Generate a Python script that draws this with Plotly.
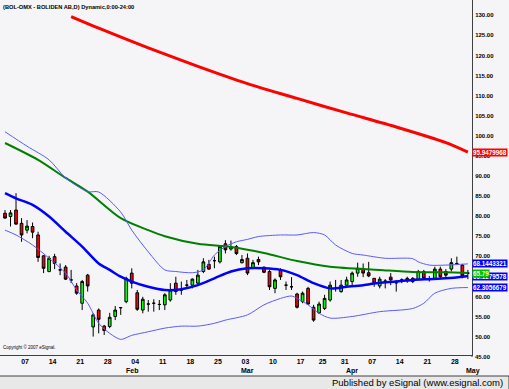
import plotly.graph_objects as go
import pandas as pd

# ---------------- data ----------------
trade_days = pd.bdate_range("2008-01-02", "2008-04-30")
trade_days = trade_days[~trade_days.isin(pd.to_datetime(["2008-03-21", "2008-03-24"]))]
dates = [pd.Timestamp("2007-12-28")] + list(trade_days)

opens = [80.7, 79.9, 81.5, 78.2, 76.5, 77.4, 75.3, 70.1, 66.2, 69.9,
         66.6, 67.3, 64.1, 62.6, 58.3, 65.3, 52.4, 56.6, 52.6, 52.5,
         55.0, 57.2, 58.7, 65.8, 60.9, 56.6, 58.1, 58.3, 58.0, 57.9,
         59.1, 63.3, 61.6, 62.8, 62.8, 63.3, 66.2, 68.0, 68.9, 68.6,
         73.1, 71.8, 72.4, 68.4, 69.5, 67.2, 69.2, 67.3, 66.2, 62.0,
         66.6, 62.8, 62.4, 60.6, 58.7, 62.0, 57.3, 55.9, 57.0, 59.1,
         62.0, 61.2, 62.8, 63.7, 65.8, 66.8, 65.9, 64.5, 62.6, 63.8,
         64.8, 63.4, 64.1, 64.5, 64.5, 64.3, 66.2, 64.3, 64.5, 66.8,
         66.2, 66.8, 68.2, 67.8, 65.8]
highs = [81.5, 81.5, 85.7, 79.5, 79.0, 78.4, 76.1, 70.3, 70.1, 70.6,
         68.2, 67.8, 66.6, 63.3, 64.1, 65.6, 55.8, 57.0, 52.9, 55.9,
         57.6, 57.2, 64.9, 67.0, 61.6, 59.9, 59.1, 59.3, 59.1, 60.8,
         63.3, 64.9, 63.7, 64.1, 64.5, 66.6, 69.5, 69.1, 69.9, 72.8,
         74.0, 73.9, 72.8, 70.3, 70.7, 69.1, 69.9, 67.4, 66.6, 64.5,
         67.0, 63.7, 64.8, 60.9, 61.2, 62.4, 57.9, 58.7, 60.4, 63.7,
         64.1, 64.1, 64.9, 66.2, 68.4, 68.2, 68.6, 64.5, 64.9, 64.3,
         65.8, 64.1, 64.5, 64.9, 64.8, 66.6, 66.6, 65.1, 67.4, 67.4,
         66.8, 69.5, 69.9, 68.1, 66.6]
lows = [79.4, 77.4, 77.8, 73.6, 75.7, 74.5, 68.6, 65.8, 66.0, 66.8,
        65.3, 64.1, 63.3, 60.4, 56.6, 61.2, 50.0, 50.8, 50.4, 52.1,
        54.1, 55.4, 58.3, 62.0, 56.4, 55.8, 56.2, 56.2, 56.6, 56.6,
        58.7, 60.4, 60.4, 62.0, 62.0, 62.8, 65.8, 66.6, 67.0, 68.2,
        70.7, 71.4, 70.3, 68.2, 65.3, 66.8, 67.8, 65.8, 61.6, 60.8,
        64.1, 61.6, 61.6, 57.0, 58.3, 57.9, 53.7, 55.6, 56.6, 58.7,
        61.2, 60.9, 62.4, 62.4, 64.9, 64.8, 64.8, 62.4, 62.0, 62.0,
        62.8, 61.2, 63.3, 63.4, 63.3, 64.1, 64.1, 63.7, 64.3, 64.5,
        64.8, 66.2, 67.8, 64.5, 64.3]
closes = [79.5, 80.8, 78.0, 75.3, 77.5, 76.0, 69.7, 67.0, 69.5, 68.2,
          66.6, 64.3, 64.1, 60.8, 63.7, 62.6, 55.4, 54.3, 51.5, 54.8,
          56.6, 57.2, 64.5, 63.3, 56.8, 59.3, 58.1, 58.3, 58.0, 60.4,
          61.6, 61.2, 61.6, 62.8, 64.3, 65.3, 68.6, 66.8, 68.9, 72.4,
          71.6, 72.4, 70.7, 69.2, 65.8, 68.4, 68.6, 66.0, 62.4, 64.1,
          64.9, 62.8, 62.4, 57.3, 60.8, 58.1, 54.1, 58.1, 59.5, 62.8,
          62.0, 62.8, 64.1, 65.8, 67.0, 65.8, 65.1, 63.3, 64.3, 63.8,
          64.1, 63.4, 64.1, 63.9, 63.7, 66.2, 64.5, 64.3, 66.8, 64.9,
          65.3, 68.4, 68.2, 65.1, 65.8]

# moving averages / bands (trading-day index, value)
ma20_x = [0, 2, 5, 8, 11, 14, 17, 19, 21, 23, 26, 29, 32, 35, 38, 41, 44, 47,
          50, 53, 56, 59, 62, 65, 68, 71, 74, 77, 80, 83, 84]
ma20_y = [85.7, 84.4, 82.8, 79.9, 76.1, 72.4, 68.2, 66.6, 64.9, 63.7, 62.4,
          61.6, 61.8, 62.8, 64.5, 66.2, 67.0, 67.0, 66.6, 65.3, 63.3, 62.0,
          62.4, 62.8, 63.4, 63.7, 64.1, 64.3, 64.5, 64.9, 65.1]

ma50_x = [0, 6, 11, 15, 21, 26, 29, 35, 41, 47, 53, 59, 68, 74, 80, 84]
ma50_y = [98.2, 94.0, 89.5, 86.1, 79.5, 76.5, 75.0, 73.1, 72.3, 70.8, 68.8,
          67.4, 66.6, 66.1, 66.0, 65.8]

ma200_x = [12, 17, 26, 35, 44, 53, 62, 71, 80, 84]
ma200_y = [129.7, 126.8, 121.9, 117.3, 113.0, 109.3, 105.7, 102.2, 98.3, 95.95]

upper_x = [0, 4, 8, 11, 15, 17, 21, 23, 26, 29, 31, 34, 36, 38, 40, 42, 44,
           46, 50, 53, 56, 58, 60, 63, 65, 69, 74, 75, 77, 80, 84]
upper_y = [101.0, 97.4, 94.0, 89.5, 86.1, 86.0, 81.0, 76.5, 71.1, 66.6, 66.2,
           65.9, 66.6, 70.3, 72.4, 73.6, 74.2, 74.9, 75.3, 75.3, 75.9, 75.3,
           72.8, 70.7, 70.3, 69.5, 69.4, 68.6, 67.8, 67.8, 68.1]

lower_x = [0, 2, 5, 8, 11, 13, 15, 17, 19, 21, 23, 26, 29, 32, 35, 38, 40, 44,
           47, 50, 52, 53, 55, 57, 59, 63, 68, 74, 76, 78, 81, 84]
lower_y = [76.5, 75.3, 72.8, 69.5, 65.8, 61.6, 58.3, 53.3, 50.8, 49.3, 50.3,
           51.2, 52.1, 52.6, 52.6, 53.3, 54.1, 55.4, 57.9, 59.5, 60.1, 59.5,
           57.9, 55.8, 54.6, 55.0, 56.2, 57.0, 58.3, 60.8, 62.0, 62.2]

y_ticks = [50, 55, 60, 65, 70, 75, 80, 85, 90, 95, 100, 105, 110, 115, 120, 125, 130]

# value labels on the right
lbl_red = "95.9479968"
lbl_upper = "68.1443321"
lbl_ma20 = "65.1279578"
lbl_ma50 = "65.79"
lbl_lower = "62.3056679"

# ---------------- figure ----------------
BG = "#F5F5F8"
FONT = "Liberation Sans"
PLOT_W, PLOT_H = 472, 355

idx = list(range(len(dates)))
x_lo, x_hi = -0.91, 84.75
fig = go.Figure()

fig.add_trace(go.Scatter(x=ma200_x, y=ma200_y, mode="lines",
                         line=dict(color="#FF0000", width=3, shape="spline", smoothing=0.8)))
fig.add_trace(go.Scatter(x=ma50_x, y=ma50_y, mode="lines",
                         line=dict(color="#008000", width=2, shape="spline", smoothing=0.8)))
fig.add_trace(go.Scatter(x=upper_x, y=upper_y, mode="lines",
                         line=dict(color="#5A5AFF", width=1, shape="spline", smoothing=0.8)))
fig.add_trace(go.Scatter(x=lower_x, y=lower_y, mode="lines",
                         line=dict(color="#5A5AFF", width=1, shape="spline", smoothing=0.8)))
fig.add_trace(go.Scatter(x=ma20_x, y=ma20_y, mode="lines",
                         line=dict(color="#0000FF", width=2.5, shape="spline", smoothing=0.8)))

fig.add_trace(go.Candlestick(
    x=idx, open=opens, high=highs, low=lows, close=closes,
    increasing=dict(fillcolor="#00FF00", line=dict(color="#000000", width=1)),
    decreasing=dict(fillcolor="#FF0000", line=dict(color="#000000", width=1)),
    whiskerwidth=0,
))

# week ticks (first trading day of each week from Jan 7)
tickvals, ticktext = [], []
for i, d in enumerate(dates):
    if i == 0 or d < pd.Timestamp("2008-01-07"):
        continue
    if d.isocalendar()[1] != dates[i - 1].isocalendar()[1]:
        tickvals.append(i)
        ticktext.append(d.strftime("%d"))

MONTH_Y = -15.5 / PLOT_H
annotations = []
# month labels at first trading day of month
for i, d in enumerate(dates):
    if i > 0 and d.month != dates[i - 1].month and d.month != 1:
        annotations.append(dict(x=i, xref="x", y=MONTH_Y, yref="paper", text=d.strftime("%b"),
                                showarrow=False, font=dict(size=7, family=FONT, color="black", weight="bold"),
                                xanchor="center", yanchor="middle"))
# next month (first trading day after the data) lies just past the axis end
may_pos = (len(dates) - x_lo) / (x_hi - x_lo)
annotations.append(dict(x=may_pos, xref="paper", y=MONTH_Y, yref="paper", text="May",
                        showarrow=False, font=dict(size=7, family=FONT, color="black", weight="bold"),
                        xanchor="center", yanchor="middle"))

annotations.append(dict(x=0, xref="paper", y=1, yref="paper", xshift=1, yshift=-2,
                        text="(BOL-OMX - BOLIDEN AB,D) Dynamic,0:00-24:00", showarrow=False,
                        xanchor="left", yanchor="top",
                        font=dict(size=5.7, family=FONT, color="black", weight="bold")))
annotations.append(dict(x=0, xref="paper", y=3 / PLOT_H, yref="paper", xshift=1,
                        text="Copyright © 2007 eSignal.", showarrow=False,
                        xanchor="left", yanchor="bottom",
                        font=dict(size=4.5, family=FONT, color="black")))
annotations.append(dict(x=1, xref="paper", y=-1.7 / PLOT_H, yref="paper", xshift=1,
                        text="45.00", showarrow=False, xanchor="left", yanchor="middle",
                        font=dict(size=6, family=FONT, color="black", weight="bold")))


def value_box(val, text, color):
    return dict(x=1, xref="paper", y=val, yref="y", xshift=0, text=text, showarrow=False,
                xanchor="left", yanchor="middle", bgcolor=color, borderpad=0,
                font=dict(size=6.3, family=FONT, color="white", weight="bold"))


annotations.append(value_box(float(lbl_red), lbl_red, "#FF0000"))
annotations.append(value_box(float(lbl_upper), lbl_upper, "#0000FF"))
annotations.append(value_box(float(lbl_ma20) - 0.2, lbl_ma20, "#0000FF"))
annotations.append(value_box(float(lbl_ma50) - 0.2, lbl_ma50, "#00C000"))
annotations.append(value_box(float(lbl_lower), lbl_lower, "#0000FF"))

annotations.append(dict(x=505 / PLOT_W, xref="paper", y=-28 / PLOT_H, yref="paper",
                        text="Published by eSignal (www.esignal.com)", showarrow=False,
                        xanchor="right", yanchor="middle",
                        font=dict(size=9.5, family=FONT, color="black")))

shapes = [
    dict(type="rect", xref="paper", yref="paper", x0=-0.01, x1=509 / PLOT_W, y0=-21 / PLOT_H, y1=-35 / PLOT_H,
         fillcolor="#E8E8E8", line=dict(color="#404040", width=1), layer="above"),
    dict(type="line", xref="paper", yref="paper", x0=1, x1=1, y0=0, y1=-2 / PLOT_H,
         line=dict(color="#404040", width=1)),
]

fig.update_layout(
    width=509, height=389,
    margin=dict(l=0, r=37, t=0, b=34),
    paper_bgcolor=BG, plot_bgcolor=BG,
    showlegend=False,
    annotations=annotations,
    shapes=shapes,
    xaxis=dict(range=[x_lo, x_hi], tickvals=tickvals, ticktext=ticktext,
               showgrid=False, zeroline=False, showline=True, linecolor="#404040", linewidth=1,
               rangeslider=dict(visible=False), ticks="", ticklabelshift=-2,
               tickfont=dict(size=7, family=FONT, color="black", weight="bold")),
    yaxis=dict(range=[45.41, 133.81], side="right", tickvals=y_ticks, tickformat=".2f",
               showgrid=False, zeroline=False, showline=True, linecolor="#404040", linewidth=1,
               ticks="", ticklabelstandoff=1,
               tickfont=dict(size=6, family=FONT, color="black", weight="bold")),
)

fig.write_html("out.html", config={"displayModeBar": False},
               post_script="document.body.style.margin='0';document.body.style.overflow='hidden';")
